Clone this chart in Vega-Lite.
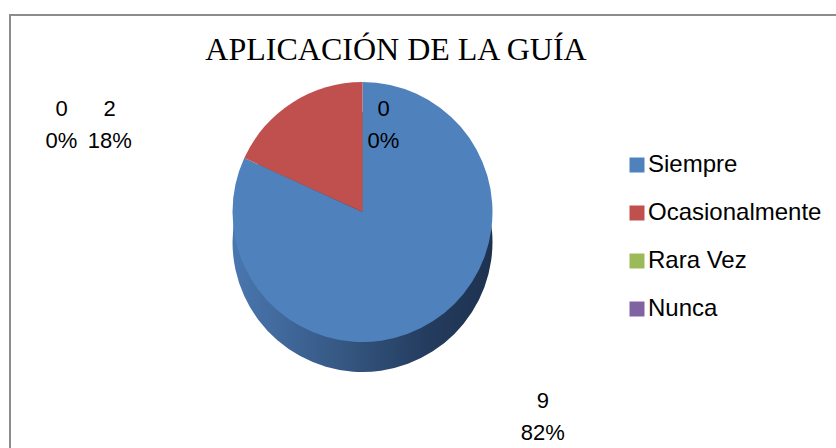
{
  "$schema": "https://vega.github.io/schema/vega-lite/v6.json",
  "width": 836,
  "height": 448,
  "autosize": {"type": "fit", "contains": "padding"},
  "padding": {"left": 9, "top": 14, "right": -10, "bottom": -10},
  "background": "white",
  "config": {"view": {"stroke": null}},
  "data": {
    "values": [
      {"categoria": "Siempre", "valor": 9, "etiqueta": "9\n82%", "orden": 1},
      {"categoria": "Ocasionalmente", "valor": 2, "etiqueta": "2\n18%", "orden": 2},
      {"categoria": "Rara Vez", "valor": 0, "etiqueta": "0\n0%", "orden": 3},
      {"categoria": "Nunca", "valor": 0, "etiqueta": "0\n0%", "orden": 4}
    ]
  },
  "layer": [
    {
      "mark": {"type": "rect", "filled": false, "stroke": "#8c8c8c", "strokeWidth": 2},
      "encoding": {}
    },
    {
      "data": {"values": [{"titulo": "APLICACIÓN DE LA GUÍA"}]},
      "mark": {"type": "text", "font": "Liberation Serif", "fontSize": 32, "color": "#000000", "align": "center", "baseline": "alphabetic", "xOffset": -31.5, "yOffset": -176},
      "encoding": {"text": {"field": "titulo", "type": "nominal"}}
    },
    {
      "mark": {
        "type": "arc",
        "radius": 130,
        "xOffset": -65,
        "yOffset": 6,
        "color": {
          "gradient": "linear",
          "x1": 0, "x2": 1, "y1": 0, "y2": 0,
          "stops": [
            {"offset": 0, "color": "#4a77b0"},
            {"offset": 0.45, "color": "#34557f"},
            {"offset": 0.75, "color": "#243c5e"},
            {"offset": 1, "color": "#1e3250"}
          ]
        }
      },
      "encoding": {
        "theta": {"field": "valor", "type": "quantitative", "stack": true},
        "order": {"field": "orden", "type": "quantitative"}
      }
    },
    {
      "mark": {"type": "arc", "radius": 130, "xOffset": -65, "yOffset": -24},
      "encoding": {
        "theta": {"field": "valor", "type": "quantitative", "stack": true},
        "order": {"field": "orden", "type": "quantitative"},
        "color": {
          "field": "categoria",
          "type": "nominal",
          "scale": {
            "domain": ["Siempre", "Ocasionalmente", "Rara Vez", "Nunca"],
            "range": ["#4f81bd", "#c0504d", "#9bbb59", "#8064a2"]
          },
          "legend": {
            "orient": "none",
            "legendX": 615,
            "legendY": 138,
            "title": null,
            "symbolType": "square",
            "symbolSize": 225,
            "symbolStrokeWidth": 0,
            "labelFont": "Liberation Sans",
            "labelFontSize": 24,
            "labelColor": "#000000",
            "labelOffset": -1,
            "labelLimit": 400,
            "rowPadding": 24,
            "padding": 0
          }
        }
      }
    },
    {
      "transform": [
        {"stack": "valor", "groupby": [], "sort": [{"field": "orden"}], "as": ["ini", "fin"]},
        {"calculate": "(datum.ini + datum.fin) / 2", "as": "medio"},
        {"filter": "datum.categoria === 'Siempre'"}
      ],
      "mark": {"type": "text", "radius": 241, "xOffset": -65, "yOffset": -24, "dx": 50, "dy": -14, "font": "Liberation Sans", "fontSize": 22, "color": "#000000", "lineBreak": "\n", "lineHeight": 32, "align": "center", "baseline": "middle"},
      "encoding": {
        "theta": {"field": "medio", "type": "quantitative", "stack": null},
        "text": {"field": "etiqueta", "type": "nominal"}
      }
    },
    {
      "transform": [
        {"stack": "valor", "groupby": [], "sort": [{"field": "orden"}], "as": ["ini", "fin"]},
        {"calculate": "(datum.ini + datum.fin) / 2", "as": "medio"},
        {"filter": "datum.categoria === 'Ocasionalmente'"}
      ],
      "mark": {"type": "text", "radius": 105, "xOffset": -65, "yOffset": -24, "dx": -196, "dy": -15, "font": "Liberation Sans", "fontSize": 22, "color": "#000000", "lineBreak": "\n", "lineHeight": 32, "align": "center", "baseline": "middle"},
      "encoding": {
        "theta": {"field": "medio", "type": "quantitative", "stack": null},
        "text": {"field": "etiqueta", "type": "nominal"}
      }
    },
    {
      "transform": [
        {"stack": "valor", "groupby": [], "sort": [{"field": "orden"}], "as": ["ini", "fin"]},
        {"calculate": "(datum.ini + datum.fin) / 2", "as": "medio"},
        {"filter": "datum.categoria === 'Rara Vez'"}
      ],
      "mark": {"type": "text", "radius": 88, "xOffset": -65, "yOffset": -24, "dx": 21, "dy": -15, "font": "Liberation Sans", "fontSize": 22, "color": "#000000", "lineBreak": "\n", "lineHeight": 32, "align": "center", "baseline": "middle"},
      "encoding": {
        "theta": {"field": "medio", "type": "quantitative", "stack": null},
        "text": {"field": "etiqueta", "type": "nominal"}
      }
    },
    {
      "transform": [
        {"stack": "valor", "groupby": [], "sort": [{"field": "orden"}], "as": ["ini", "fin"]},
        {"calculate": "(datum.ini + datum.fin) / 2", "as": "medio"},
        {"filter": "datum.categoria === 'Nunca'"}
      ],
      "mark": {"type": "text", "radius": 88, "xOffset": -65, "yOffset": -24, "dx": -301, "dy": -15, "font": "Liberation Sans", "fontSize": 22, "color": "#000000", "lineBreak": "\n", "lineHeight": 32, "align": "center", "baseline": "middle"},
      "encoding": {
        "theta": {"field": "medio", "type": "quantitative", "stack": null},
        "text": {"field": "etiqueta", "type": "nominal"}
      }
    }
  ]
}
